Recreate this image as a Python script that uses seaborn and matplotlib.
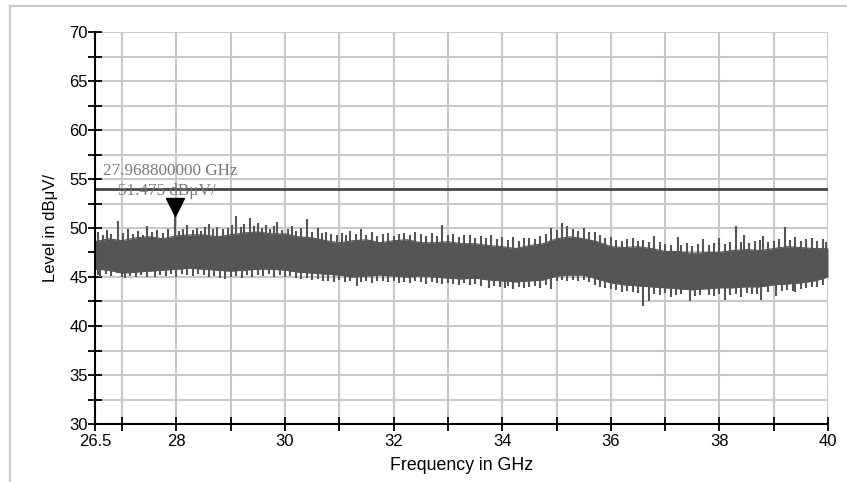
import numpy as np
import pandas as pd
import matplotlib
matplotlib.use("Agg")
import matplotlib.pyplot as plt
import seaborn as sns
from matplotlib.ticker import MultipleLocator, FixedLocator
from matplotlib.lines import Line2D

# ---------------- data ----------------
freq = [26.5, 26.75, 27, 27.25, 27.5, 27.75, 28, 28.25, 28.5, 28.75, 29, 29.25, 29.5, 29.75,
        30, 30.25, 30.5, 30.75, 31, 31.25, 31.5, 31.75, 32, 32.25, 32.5, 32.75, 33, 33.25,
        33.5, 33.75, 34, 34.25, 34.5, 34.75, 35, 35.25, 35.5, 35.75, 36, 36.25, 36.5, 36.75,
        37, 37.25, 37.5, 37.75, 38, 38.25, 38.5, 38.75, 39, 39.25, 39.5, 39.75, 40]
upper = [48.6, 48.9, 48.7, 49.0, 49.1, 48.9, 49.2, 49.3, 49.3, 49.1, 49.3, 49.5, 49.6, 49.4,
         49.4, 49.1, 49.0, 48.7, 48.5, 48.7, 48.8, 48.5, 48.7, 48.8, 48.5, 48.5, 48.6, 48.4,
         48.4, 48.2, 48.1, 47.9, 48.2, 48.4, 48.9, 49.1, 48.9, 48.6, 48.1, 48.0, 48.1, 47.9,
         47.6, 47.6, 47.4, 47.5, 47.5, 47.7, 47.8, 47.7, 47.9, 48.1, 48.0, 47.9, 47.9]
lower = [45.8, 45.7, 45.4, 45.5, 45.6, 45.7, 45.8, 45.9, 45.8, 45.7, 45.6, 45.7, 45.8, 45.8,
         45.7, 45.5, 45.4, 45.3, 45.2, 45.0, 45.1, 45.2, 45.1, 45.0, 45.1, 45.0, 44.9, 44.8,
         44.9, 44.7, 44.6, 44.5, 44.6, 44.7, 45.1, 45.2, 45.2, 44.8, 44.4, 44.2, 44.1, 44.0,
         43.9, 43.8, 43.7, 43.8, 43.9, 43.9, 44.0, 44.0, 44.2, 44.3, 44.4, 44.6, 45.0]

spike_up_freq = [26.55, 26.65, 26.72, 26.8, 26.93, 27.02, 27.1, 27.2, 27.3, 27.38, 27.45, 27.55,
                 27.65, 27.75, 27.85, 27.97, 28.05, 28.12, 28.2, 28.3, 28.38, 28.45, 28.52, 28.6,
                 28.68, 28.75, 28.85, 28.95, 29.02, 29.1, 29.18, 29.25, 29.35, 29.42, 29.5, 29.58,
                 29.65, 29.72, 29.8, 29.86, 29.95, 30.05, 30.12, 30.2, 30.3, 30.4, 30.5, 30.6,
                 30.68, 30.75, 30.85, 30.95, 31.05, 31.12, 31.2, 31.3, 31.4, 31.5, 31.6, 31.7,
                 31.8, 31.9, 32.0, 32.1, 32.2, 32.3, 32.4, 32.5, 32.6, 32.7, 32.8, 32.89,
                 33.0, 33.1, 33.2, 33.3, 33.4, 33.5, 33.6, 33.7, 33.8, 33.9, 34.0, 34.1,
                 34.2, 34.3, 34.4, 34.5, 34.6, 34.7, 34.8, 34.9, 35.0, 35.1, 35.2, 35.3,
                 35.4, 35.5, 35.6, 35.7, 35.8, 35.9, 36.0, 36.1, 36.2, 36.3, 36.4, 36.5,
                 36.6, 36.7, 36.8, 36.9, 37.0, 37.1, 37.23, 37.3, 37.4, 37.5, 37.6, 37.7,
                 37.8, 37.9, 38.0, 38.1, 38.2, 38.3, 38.4, 38.45, 38.55, 38.65, 38.75, 38.8,
                 38.9, 39.0, 39.1, 39.2, 39.3, 39.4, 39.5, 39.6, 39.7, 39.8, 39.9, 39.97]
spike_up_level = [49.6, 49.3, 49.8, 49.4, 50.7, 49.5, 49.9, 49.4, 49.7, 49.3, 50.2, 49.6,
                  49.8, 49.5, 49.9, 51.475, 49.7, 49.9, 50.3, 49.8, 50.0, 49.7, 50.1, 50.4,
                  49.9, 50.1, 49.9, 50.0, 50.3, 51.2, 50.1, 50.4, 51.0, 50.2, 50.5, 50.0,
                  50.3, 49.9, 50.2, 50.6, 49.8, 49.9, 50.2, 49.7, 50.0, 50.9, 49.6, 50.0,
                  49.5, 49.6, 49.4, 49.3, 49.5, 49.3, 49.7, 49.4, 49.9, 49.3, 49.6, 49.2,
                  49.4, 49.5, 49.2, 49.4, 49.5, 49.3, 49.6, 49.4, 49.2, 49.5, 49.2, 50.3,
                  49.3, 49.4, 49.1, 49.3, 49.3, 49.0, 49.2, 49.0, 49.3, 48.9, 49.1, 48.8,
                  49.1, 48.7, 49.0, 49.0, 48.9, 49.2, 49.4, 50.0, 49.8, 50.5, 50.2, 49.9,
                  49.7, 50.0, 49.6, 49.6, 49.3, 49.0, 49.1, 48.8, 48.7, 48.9, 49.0, 48.7,
                  48.8, 48.6, 49.2, 48.6, 48.4, 48.3, 49.1, 48.3, 48.5, 48.2, 48.4, 48.9,
                  48.3, 48.5, 49.0, 48.4, 48.6, 50.2, 48.6, 49.3, 48.5, 48.7, 48.8, 49.2,
                  48.6, 48.7, 48.9, 50.1, 48.8, 49.1, 48.7, 48.9, 49.0, 48.7, 48.9, 48.6]

spike_dn_freq = [26.55, 26.6, 26.7, 26.8, 26.9, 27.0, 27.05, 27.15, 27.25, 27.35, 27.45, 27.6,
                 27.7, 27.8, 27.9, 28.0, 28.1, 28.2, 28.3, 28.4, 28.5, 28.6, 28.7, 28.8,
                 28.9, 29.0, 29.1, 29.2, 29.3, 29.4, 29.5, 29.6, 29.7, 29.8, 29.9, 30.0,
                 30.1, 30.2, 30.3, 30.4, 30.5, 30.6, 30.7, 30.8, 30.9, 31.0, 31.1, 31.2,
                 31.32, 31.4, 31.5, 31.6, 31.7, 31.8, 31.9, 32.0, 32.1, 32.2, 32.3, 32.4,
                 32.5, 32.6, 32.7, 32.8, 32.9, 33.0, 33.1, 33.2, 33.3, 33.4, 33.5, 33.6,
                 33.75, 33.85, 33.95, 34.05, 34.1, 34.2, 34.3, 34.4, 34.5, 34.6, 34.7, 34.8,
                 34.9, 35.0, 35.1, 35.2, 35.3, 35.4, 35.5, 35.6, 35.7, 35.8, 35.9, 36.0,
                 36.1, 36.2, 36.3, 36.4, 36.5, 36.6, 36.7, 36.8, 36.9, 37.0, 37.1, 37.2,
                 37.3, 37.46, 37.55, 37.65, 37.8, 37.9, 38.0, 38.1, 38.2, 38.3, 38.4, 38.5,
                 38.6, 38.7, 38.77, 38.9, 39.05, 39.15, 39.25, 39.35, 39.4, 39.5, 39.6, 39.7,
                 39.8, 39.9]
spike_dn_level = [45.2, 45.0, 45.3, 45.1, 45.4, 45.0, 44.9, 45.1, 45.0, 45.2, 45.0, 45.0,
                  45.2, 45.1, 45.3, 45.0, 45.3, 45.2, 45.1, 45.3, 45.2, 45.0, 45.1, 44.9,
                  44.8, 45.0, 45.1, 44.9, 45.2, 45.0, 45.2, 45.1, 45.3, 45.0, 45.2, 45.0,
                  45.1, 44.9, 44.8, 44.9, 44.7, 44.8, 44.6, 44.6, 44.5, 44.7, 44.5, 44.6,
                  44.1, 44.5, 44.6, 44.4, 44.6, 44.6, 44.5, 44.6, 44.4, 44.5, 44.4, 44.6,
                  44.5, 44.3, 44.5, 44.4, 44.3, 44.4, 44.3, 44.2, 44.4, 44.2, 44.3, 44.1,
                  43.9, 44.1, 44.0, 43.9, 44.1, 43.8, 44.0, 43.9, 44.0, 44.1, 43.9, 44.2,
                  43.8, 44.6, 44.7, 44.6, 44.7, 44.6, 44.7, 44.5, 44.2, 44.0, 43.9, 43.8,
                  43.7, 43.5, 43.6, 43.5, 43.4, 42.0, 42.5, 43.3, 43.2, 43.4, 43.0, 43.2,
                  43.3, 42.6, 43.1, 43.2, 43.2, 43.1, 43.3, 42.7, 43.2, 43.3, 43.0, 43.4,
                  43.3, 43.3, 42.7, 43.5, 43.1, 43.6, 43.7, 43.6, 43.5, 43.8, 43.9, 44.0,
                  44.0, 44.2]

limit_level = 54.0
marker_freq = 27.9688
marker_level = 51.475
marker_text1 = "27.968800000 GHz"
marker_text2 = "51.475 dBμV/"

x_major = [26.5, 28, 30, 32, 34, 36, 38, 40]
x_major_labels = ["26.5", "28", "30", "32", "34", "36", "38", "40"]
x_minor = [27, 29, 31, 33, 35, 37, 39]
xlabel = "Frequency in GHz"
ylabel = "Level in dBμV/"

# ---------------- figure ----------------
sns.set_theme(style="white")
plt.rcParams['font.family'] = ['Liberation Sans', 'DejaVu Sans']

W, H = 847, 482
fig = plt.figure(figsize=(W / 100, H / 100), dpi=100)
ax = fig.add_axes([95 / W, 1 - 424 / H, (828 - 95) / W, (424 - 32) / H])

trace_col = "#555555"
df = pd.DataFrame({"freq": freq, "upper": upper, "lower": lower})
ax.fill_between(df["freq"], df["lower"], df["upper"], color=trace_col, lw=0, zorder=3)
sns.lineplot(data=df, x="freq", y="upper", ax=ax, color=trace_col, lw=0.8, zorder=3)
sns.lineplot(data=df, x="freq", y="lower", ax=ax, color=trace_col, lw=0.8, zorder=3)

up_base = np.interp(spike_up_freq, freq, upper)
dn_base = np.interp(spike_dn_freq, freq, lower)
ax.vlines(spike_up_freq, up_base - 0.5, spike_up_level, color=trace_col, lw=1.5, zorder=3)
ax.vlines(spike_dn_freq, spike_dn_level, dn_base + 0.5, color=trace_col, lw=1.5, zorder=3)

ax.axhline(limit_level, color="#444444", lw=2.0, zorder=4)
ax.plot([marker_freq], [marker_level + 0.7], marker="v", color="black",
        markersize=13, linestyle="none", zorder=5)

serif = ['Liberation Serif', 'DejaVu Serif']
ax.text(26.65, 55.8, marker_text1, fontsize=12.3, color="#7a7a7a", family=serif,
        va="center", ha="left", zorder=6)
ax.text(26.93, 53.75, marker_text2, fontsize=12.3, color="#7a7a7a", family=serif,
        va="center", ha="left", zorder=6)

ax.set_xlim(26.5, 40)
ax.set_ylim(30, 70)
ax.xaxis.set_major_locator(FixedLocator(x_major))
ax.set_xticklabels(x_major_labels)
ax.xaxis.set_minor_locator(FixedLocator(x_minor))
ax.yaxis.set_major_locator(MultipleLocator(5))
ax.yaxis.set_minor_locator(MultipleLocator(2.5))

ax.grid(True, which="both", color="#c8c8c8", lw=1.5, zorder=0)
ax.set_axisbelow(True)
for s in ["top", "right"]:
    ax.spines[s].set_visible(False)
for s in ["left", "bottom"]:
    ax.spines[s].set_color("black")
    ax.spines[s].set_linewidth(1.5)
    ax.spines[s].set_zorder(7)

ax.tick_params(axis="both", which="both", direction="inout", length=10, width=1.3,
               color="black", labelsize=12, labelcolor="black", left=True, bottom=True)
ax.tick_params(axis="y", which="both", pad=0)
ax.tick_params(axis="x", which="both", pad=2)

ax.set_xlabel(xlabel, fontsize=12.8, color="black", labelpad=6)
ax.set_ylabel(ylabel, fontsize=12, color="black", labelpad=8)

# outer frame of the screenshot
fig.add_artist(Line2D([10 / W, 1], [1 - 6 / H, 1 - 6 / H], color="#c8c8c8", lw=1.5))
fig.add_artist(Line2D([10 / W, 10 / W], [0, 1 - 6 / H], color="#c8c8c8", lw=1.5))

fig.savefig("out.png", dpi=100, facecolor="white")
